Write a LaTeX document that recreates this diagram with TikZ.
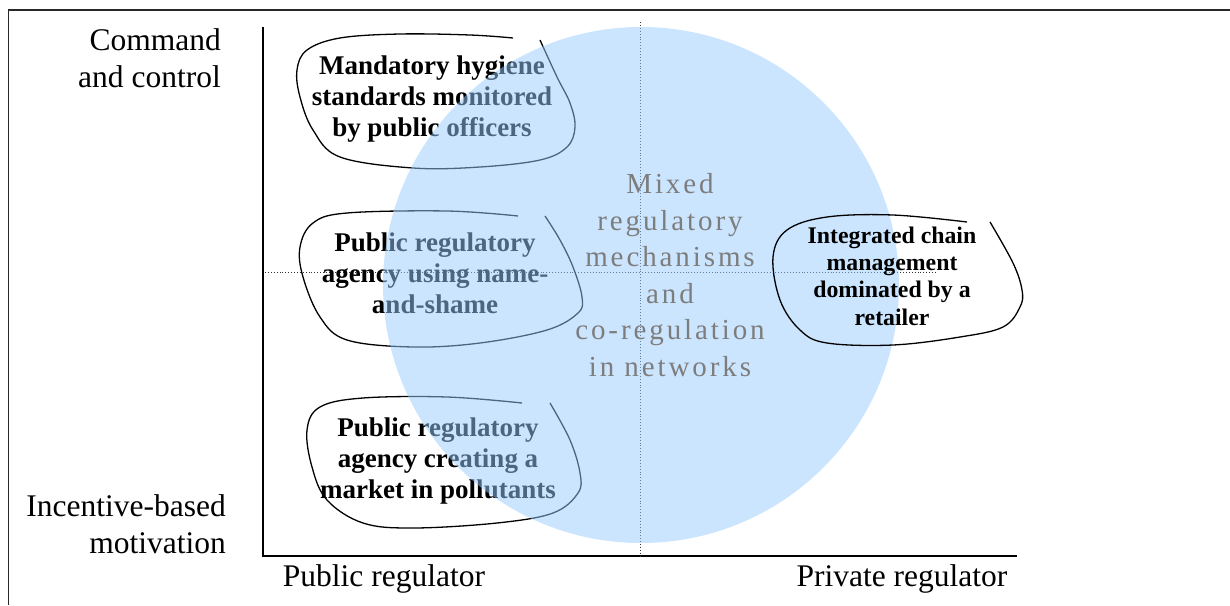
\documentclass[tikz,border=0pt]{standalone}
\usepackage{fontspec}
\setmainfont{Liberation Serif}
\newfontfamily\spacedserif[LetterSpace=10]{Liberation Serif}
\definecolor{circblue}{RGB}{153,204,255}
\definecolor{framegray}{RGB}{40,40,40}
\definecolor{midgray}{RGB}{125,125,125}
\tikzset{
  blobline/.style={line width=1.3pt, black},
  blobtext/.style={align=center, font=\bfseries\fontsize{27}{31}\selectfont, inner sep=0pt},
  blobtextsmall/.style={align=center, font=\bfseries\fontsize{23.8}{27.3}\selectfont, inner sep=0pt},
  axlabel/.style={font=\fontsize{31.5}{37}\selectfont, inner sep=0pt},
  axisline/.style={line width=2.4pt, black},
  guide/.style={dotted, line width=0.9pt, black!80},
}
\begin{document}
\begin{tikzpicture}[x=1pt,y=-1pt]
\useasboundingbox (0,0) rectangle (1230,605);
% frame
\draw[framegray, line width=1.6pt] (8.5,605) -- (8.5,10) -- (1230,10);
% axes
\coordinate (origin) at (263,556);
\coordinate (ytop) at (263,27);
\coordinate (xend) at (1017,556);
\draw[axisline] (ytop) -- (origin) -- (xend);
% dotted guides
\coordinate (vtop) at (640,22);
\coordinate (vbot) at (640,556);
\coordinate (hl) at (265,272);
\coordinate (hr) at (937,272);
\draw[guide] (vtop) -- (vbot);
\draw[guide] (hl) -- (hr);
% axis labels
\node[axlabel, align=right, anchor=east] (cc) at (221,58) {Command\\and control};
\node[axlabel, align=right, anchor=east] (ib) at (226,524) {Incentive-based\\motivation};
\node[axlabel] (pubreg) at (384,579) {Public regulator};
\node[axlabel] (privreg) at (902,579) {Private regulator};
% blobs under the circle
\draw[blobline] plot[smooth, tension=0.6] coordinates {(513,38) (470,35) (400,34) (340,38) (307,50) (297,70) (300,97) (313,130) (340,157) (413,168) (480,167) (540,160) (567,147) (575,127) (570,103) (557,77) (540,40)};
\draw[blobline] plot[smooth, tension=0.6] coordinates {(518,216) (447,211) (347,213) (313,223) (300,247) (303,277) (320,317) (347,340) (413,347) (480,343) (547,330) (578,313) (582,297) (573,267) (560,240) (545,216)};
\draw[blobline] plot[smooth, tension=0.6] coordinates {(522,403) (447,397) (363,398) (320,407) (307,430) (312,467) (327,500) (363,523) (413,528) (497,523) (553,513) (578,493) (580,473) (570,440) (550,403)};
% blob texts under the circle
\node[blobtext] (b1) at (432,99) {Mandatory hygiene\\standards monitored\\by public officers};
\node[blobtext] (b2) at (435,273) {Public regulatory\\agency using name-\\and-shame};
\node[blobtext] (b3) at (438,461) {Public regulatory\\agency creating a\\market in pollutants};
% circle
\coordinate (cc0) at (641,285);
\fill[circblue, opacity=0.5] (cc0) circle (258);
% blob above the circle
\draw[blobline] plot[smooth, tension=0.6] coordinates {(967,222) (893,215) (827,217) (787,230) (773,257) (780,300) (800,330) (827,343) (893,345) (960,337) (1003,327) (1020,307) (1022,290) (1013,263) (990,222)};
\node[blobtextsmall] (b4) at (892,276) {Integrated chain\\management\\dominated by a\\retailer};
% central text
\node[align=center, text=midgray, inner sep=0pt, font=\spacedserif\fontsize{29}{36.6}\selectfont] (mix) at (670,275) {Mixed\\regulatory\\mechanisms\\and\\co-regulation\\in networks};
\end{tikzpicture}
\end{document}
